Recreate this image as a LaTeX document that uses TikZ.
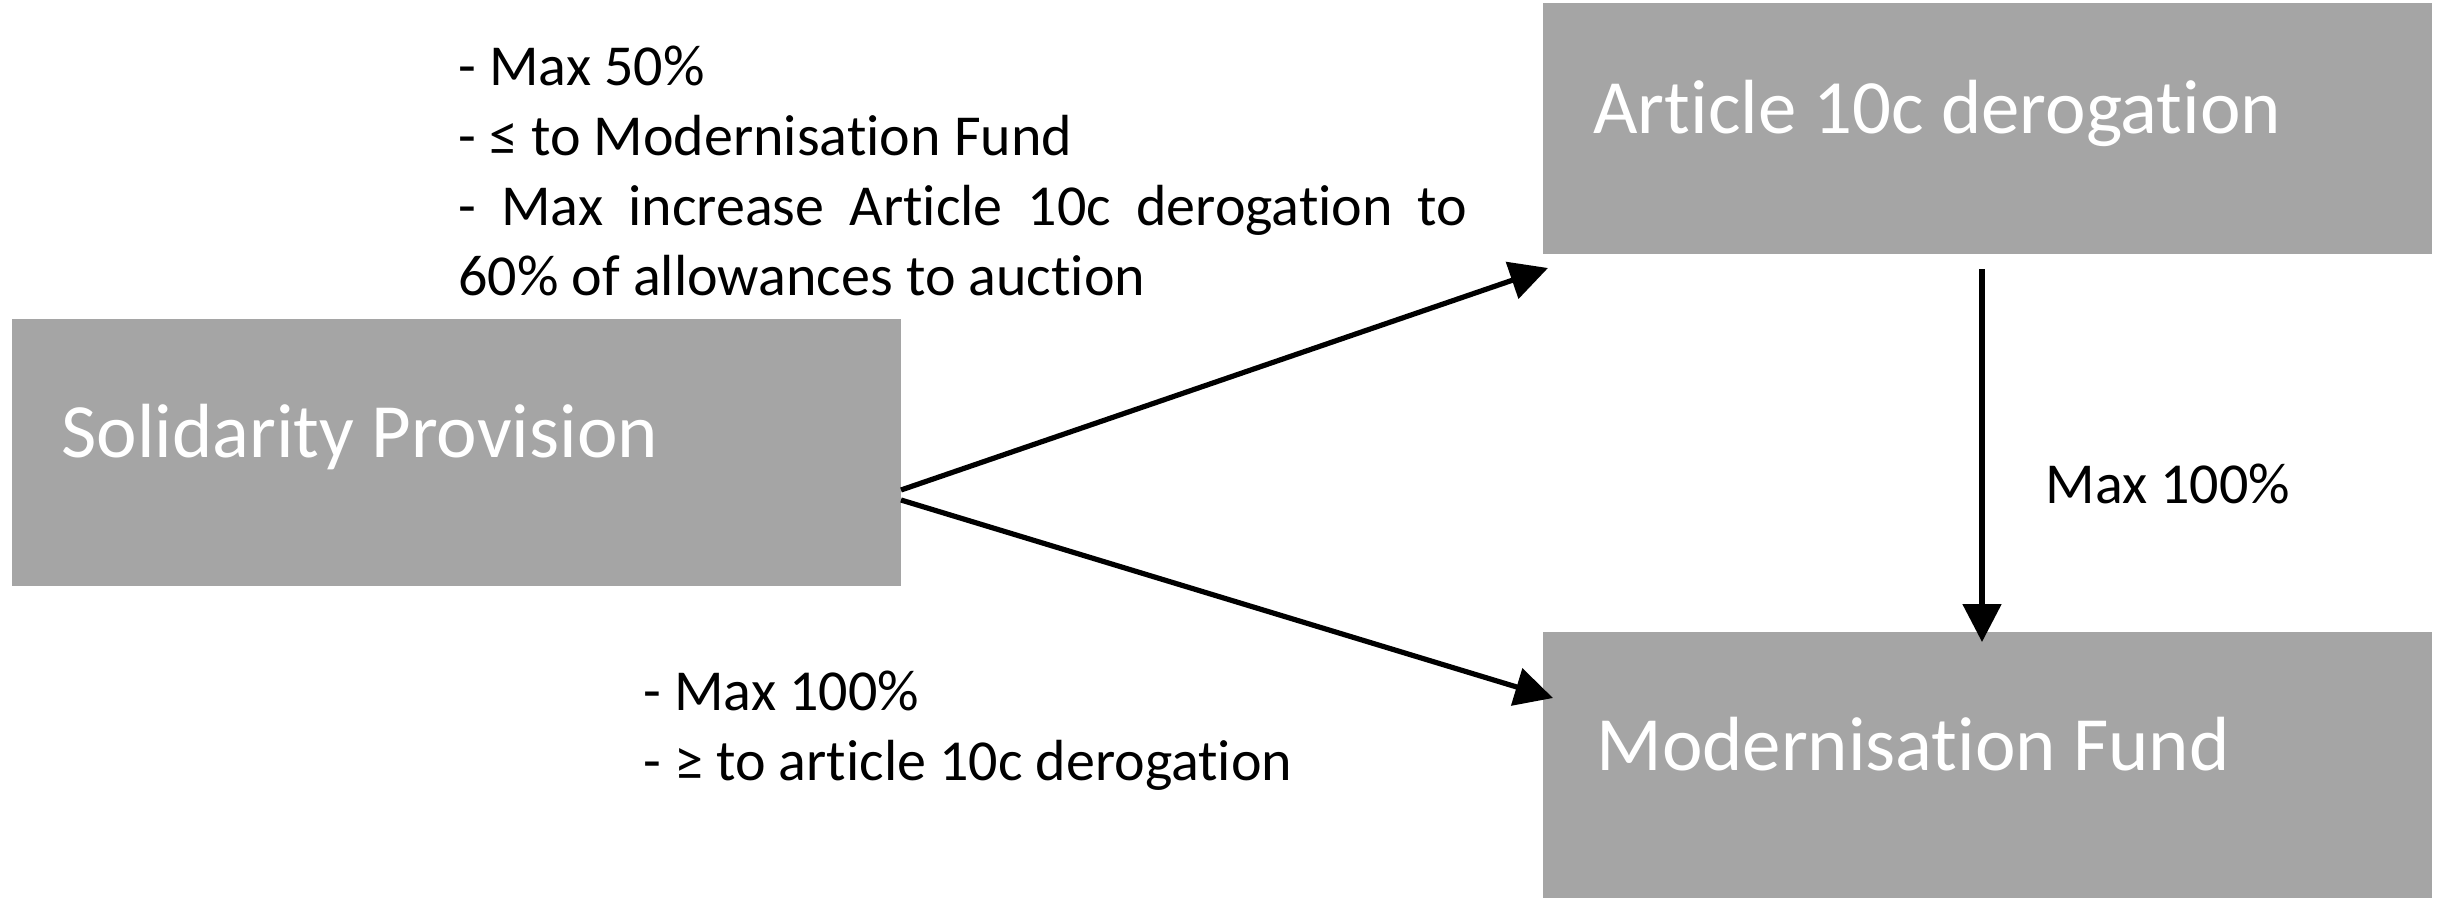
\documentclass[tikz,border=0pt]{standalone}
\usepackage{fontspec}
\setmainfont[Ligatures={NoCommon,NoRare}]{Carlito}
\usetikzlibrary{arrows.meta,calc}
\definecolor{boxgray}{HTML}{A5A5A5}
\begin{document}
\begin{tikzpicture}[x=0.5pt,y=-0.5pt,
  box/.style={fill=boxgray, draw=none, inner sep=0, outer sep=0, anchor=north west, minimum width=444.5pt},
  boxtext/.style={anchor=base west, inner sep=0, text=white, font=\fontsize{38.4}{46}\selectfont},
  lbl/.style={anchor=base west, inner sep=0, align=left, font=\fontsize{29}{35}\selectfont},
  conn/.style={line width=2.6pt, -{Triangle[length=19pt,width=19pt]}}]
\useasboundingbox (0,0) rectangle (2440,900);
% boxes
\node[box, minimum height=133.5pt] (sp) at (12,319) {};
\node[box, minimum height=125.5pt] (art) at (1543,3) {};
\node[box, minimum height=133pt] (mod) at (1543,632) {};
% box texts
\node[boxtext] (sptxt) at (61,457) {Solidarity Provision};
\node[boxtext] (arttxt) at (1593,133) {Article 10c derogation};
\node[boxtext] (modtxt) at (1596,770) {Modernisation Fund};
% connector ends
\coordinate (spA) at ($(sp.north east)+(0,171)$);
\coordinate (spB) at ($(sp.north east)+(0,181)$);
\coordinate (artin) at ($(art.south west)+(5,14)$);
\coordinate (modin) at ($(mod.north west)+(10,66)$);
\coordinate (artout) at (1982,269);
\coordinate (modtop) at (1982,642);
% connectors
\draw[conn] (spA) -- (artin);
\draw[conn] (spB) -- (modin);
\draw[conn] (artout) -- (modtop);
% labels (anchored at the baseline of the last line)
\node[lbl] (toplbl) at (458,295) {- Max 50\%\\- ≤ to Modernisation Fund\\\makebox[504.5pt][s]{- Max increase Article 10c derogation to}\\60\% of allowances to auction};
\node[lbl] (botlbl) at (643,780) {- Max 100\%\\- ≥ to article 10c derogation};
\node[lbl] (vlbl) at (2045,503) {Max 100\%};
\end{tikzpicture}
\end{document}
